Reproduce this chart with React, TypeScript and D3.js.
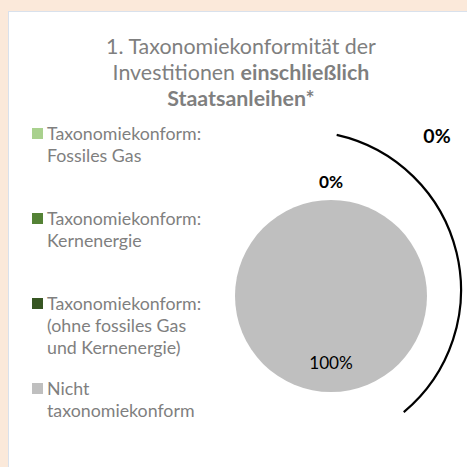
import React from "react";
import * as d3 from "d3";

const categories = [
  ["Taxonomiekonform:", "Fossiles Gas"],
  ["Taxonomiekonform:", "Kernenergie"],
  ["Taxonomiekonform:", "(ohne fossiles Gas", "und Kernenergie)"],
  ["Nicht", "taxonomiekonform"],
];
const values = [0, 0, 0, 100];
const colors = ["#A9D18E", "#548235", "#375623", "#BFBFBF"];
const compliantIdx = [0, 1, 2];

const W = 467;
const H = 467;
const FONT = "Lato, 'Open Sans', sans-serif";

export default function App() {
  const cx = 331;
  const cy = 296;
  const r = 96;
  const total = d3.sum(values);
  const pct = (v: number) => d3.format(".0%")(v / total);

  const pie = d3.pie<number>().sort(null).startAngle(0).endAngle(2 * Math.PI);
  const arcs = pie(values);
  const arcGen = d3.arc<d3.PieArcDatum<number>>().innerRadius(0).outerRadius(r);
  const labelArcIn = d3.arc<d3.PieArcDatum<number>>().innerRadius(r * 0.7).outerRadius(r * 0.7);
  const labelArcOut = d3.arc<d3.PieArcDatum<number>>().innerRadius(r + 12).outerRadius(r + 12);

  // dedupe labels at identical positions (zero slices)
  const seen = new Set<string>();
  const labels: { x: number; y: number; text: string; bold: boolean }[] = [];
  arcs.forEach((a) => {
    const zero = a.endAngle - a.startAngle < 1e-6;
    const [x, y] = zero ? labelArcOut.centroid(a) : labelArcIn.centroid(a);
    const key = `${Math.round(x)},${Math.round(y)}`;
    if (seen.has(key)) return;
    seen.add(key);
    labels.push({ x, y, text: pct(a.data), bold: zero });
  });

  // bracket arc around the compliant share
  const bracketC = { x: 302, y: 290 };
  const bracketR = 159;
  const bracket = d3.arc()({
    innerRadius: bracketR,
    outerRadius: bracketR,
    startAngle: (12.6 * Math.PI) / 180,
    endAngle: (140.2 * Math.PI) / 180,
  } as any);
  const compliantSum = d3.sum(compliantIdx.map((i) => values[i]));

  const legendY = d3.scaleLinear().domain([0, categories.length - 1]).range([140, 395]);

  return (
    <svg
      width={W}
      height={H}
      style={{ position: "absolute", left: 0, top: 0, fontFamily: FONT }}
    >
      <rect x={0} y={0} width={W} height={H} fill="#FBE9DA" />
      <rect x={8.5} y={11.5} width={W} height={H} fill="#FFFFFF" stroke="#D9E1EC" strokeWidth={1} />

      <g fill="#7F7F7F" fontSize={21.4} textAnchor="middle">
        <text x={241} y={54}>1. Taxonomiekonformität der</text>
        <text x={241} y={80}>
          Investitionen <tspan fontWeight="bold">einschließlich</tspan>
        </text>
        <text x={241} y={106} fontWeight="bold">Staatsanleihen*</text>
      </g>

      <g>
        {categories.map((lines, i) => (
          <g key={i} transform={`translate(0,${legendY(i)})`}>
            <rect x={32} y={-12} width={11} height={11} fill={colors[i]} />
            <text x={47} y={0} fontSize={17.8} fill="#7F7F7F">
              {lines.map((l, j) => (
                <tspan key={j} x={47} dy={j === 0 ? 0 : 22}>
                  {l}
                </tspan>
              ))}
            </text>
          </g>
        ))}
      </g>

      <g transform={`translate(${cx},${cy})`}>
        {arcs.map((a, i) => (
          <path key={i} d={arcGen(a) || ""} fill={colors[i]} />
        ))}
        {labels.map((l, i) => (
          <text
            key={i}
            x={l.x}
            y={l.y}
            textAnchor="middle"
            fontSize={17.2}
            fontWeight={l.bold ? "bold" : "normal"}
            fill="#000"
            dy={l.bold ? 0 : "0.35em"}
          >
            {l.text}
          </text>
        ))}
      </g>

      <g transform={`translate(${bracketC.x},${bracketC.y})`}>
        <path d={bracket || ""} fill="none" stroke="#000" strokeWidth={2.2} />
      </g>
      <text x={437} y={143} textAnchor="middle" fontSize={19.5} fontWeight="bold" fill="#000">
        {pct(compliantSum)}
      </text>
    </svg>
  );
}
